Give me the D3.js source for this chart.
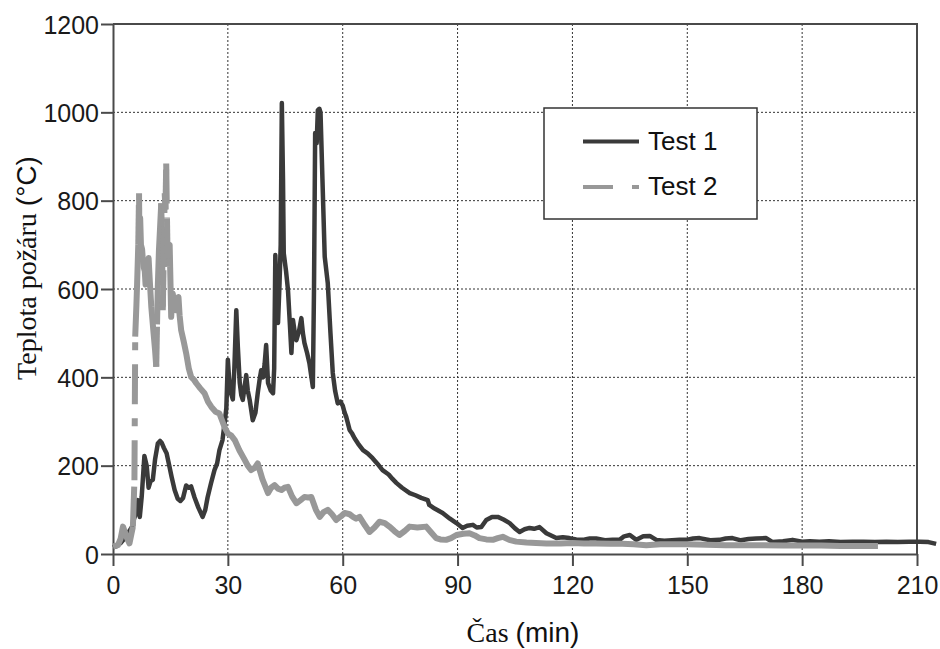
<!DOCTYPE html>
<html>
<head>
<meta charset="utf-8">
<script src="https://cdn.jsdelivr.net/npm/d3@7"></script>
<style>
  body { margin: 0; background: #fff; }
  svg { display: block; }
</style>
</head>
<body>
<div id="app"></div>
<script>
// values (time in min, temperature in °C)
const seriesNames = ["Test 1", "Test 2"];

const test1Time = [0, 1, 2, 3, 4, 5, 5.5, 6, 6.5, 7, 7.5, 8.2, 8.8, 9.3, 9.8, 10.4, 11, 11.7, 12.3, 12.7,
  13.3, 14, 14.7, 15.3, 16.1, 16.9, 17.6, 18.3, 19.1, 19.8, 20.4, 21.3, 22.3, 23.4, 24.1, 24.7, 25.6, 26.5,
  27.2, 27.8, 28.6, 29.2, 29.6, 30.0, 30.3, 30.6, 31.3, 31.7, 32.2, 32.6, 33.1, 33.5, 33.9, 34.4, 34.8, 35.2,
  35.7, 36.5, 37.2, 37.8, 38.3, 38.7, 39.2, 39.6, 40.0, 40.5, 41.2, 41.8, 42.1, 42.4, 42.8, 43.1, 43.5, 43.8,
  44.1, 44.4, 44.6, 45.2, 45.7, 46.2, 46.6, 47.0, 47.5, 47.9, 48.6, 49.2, 49.6, 50.0, 50.7, 51.3, 52.2, 52.5,
  52.8, 53.2, 53.5, 53.9, 54.2, 54.7, 55.3, 56.1, 56.8, 57.4, 58.0, 58.7, 59.4, 60.0, 60.5, 60.9, 61.8, 62.5,
  63.1, 64.0, 65.3, 66.5, 67.8, 69.0, 70.4, 72.0, 73.0, 74.0, 75.5, 77.5, 79.0, 80.5, 82.2, 82.6, 84.0, 86.1,
  88.0, 89.7, 91.3, 92.5, 94.0, 95.0, 96.2, 97.5, 99.0, 100.5, 102.0, 103.6, 105.0, 106.2, 107.5, 108.8,
  110.0, 111.4, 113.2, 115.8, 117.5, 119.2, 121.0, 122.7, 124.5, 126.2, 128.5, 130.5, 132.3, 133.5, 135.0,
  136.7, 138.5, 140.2, 141.9, 144.0, 146.0, 148.0, 149.7, 151.5, 153.2, 156.0, 158.4, 160.0, 161.8, 164.0,
  166.0, 168.0, 170.6, 172.3, 175.0, 177.5, 180.0, 182.0, 184.5, 187.0, 190.0, 193.2, 196.0, 199.0, 202.0,
  205.0, 208.0, 210.7, 213.0, 215.0];
const test1Temp = [15, 18, 25, 35, 48, 62, 80, 92, 122, 84, 130, 222, 200, 150, 165, 168, 215, 250, 256, 252,
  240, 228, 200, 175, 145, 125, 120, 127, 155, 150, 153, 128, 105, 84, 100, 128, 160, 190,
  205, 235, 258, 300, 330, 440, 400, 370, 350, 420, 552, 470, 388, 360, 349, 380, 405, 370,
  349, 303, 320, 364, 395, 416, 400, 430, 473, 387, 370, 364, 420, 677, 560, 523, 613, 700,
  1021, 850, 681, 640, 598, 520, 455, 530, 500, 484, 505, 534, 500, 478, 455, 432, 378, 600,
  953, 930, 1005, 1008, 1000, 850, 673, 613, 500, 410, 370, 341, 345, 336, 320, 311, 281, 272,
  262, 250, 235, 228, 217, 205, 190, 180, 170, 161, 150, 138, 133, 127, 122, 111, 103, 93,
  80, 70, 59, 64, 66, 60, 61, 77, 84, 84, 78, 70, 58, 50, 56, 59,
  57, 61, 47, 36, 38, 36, 33, 32, 35, 35, 31, 32, 32, 40, 43,
  32, 40, 41, 32, 30, 31, 32, 32, 35, 36, 31, 32, 35, 36, 31,
  34, 35, 36, 27, 29, 32, 28, 29, 28, 29, 27, 28, 28, 27, 28,
  27, 28, 28, 27, 23];

const test2Time = [0, 1.3, 2.0, 2.6, 3.1, 3.5, 4.3, 5.2, 5.6, 5.8, 6.1, 6.3, 6.6, 6.8, 6.9, 7.1, 7.3, 7.6,
  7.8, 8.0, 8.3, 8.5, 8.7, 9.0, 9.3, 9.6, 10.0, 10.3, 10.6, 11.0, 11.3, 11.5, 11.7, 12.0, 12.3, 12.6, 12.8,
  13.0, 13.2, 13.5, 13.7, 13.9, 14.1, 14.3, 14.5, 14.8, 15.0, 15.2, 15.4, 15.6, 16.1, 16.5, 17.1, 17.4,
  17.8, 18.5, 19.1, 19.8, 20.4, 21.1, 21.8, 22.8, 23.9, 24.8, 25.7, 26.8, 27.8, 29.1, 30.0, 30.9, 31.8, 33.0,
  34.4, 35.2, 36.1, 37.0, 37.8, 39.0, 40.5, 41.3, 42.2, 43.1, 44.0, 44.8, 45.7, 46.8, 47.9, 49.0, 50.0,
  51.0, 51.8, 53.0, 54.0, 55.0, 56.1, 57.2, 58.3, 59.5, 60.5, 61.8, 62.7, 63.5, 64.4, 65.8, 67.0, 68.3,
  69.6, 71.0, 72.2, 73.5, 74.8, 76.2, 77.5, 79.5, 81.8, 83.0, 84.4, 85.5, 87.0, 88.3, 89.7, 91.5, 93.1,
  94.5, 95.7, 97.5, 99.2, 100.5, 101.8, 103.5, 105.3, 108.0, 110.5, 113.2, 117.0, 120.0, 123.0, 126.2,
  130.0, 133.0, 136.0, 139.3, 143.0, 147.0, 150.0, 155.0, 160.0, 165.0, 170.0, 175.0, 180.0, 185.0,
  190.0, 195.0, 199.8];
const test2Temp = [17, 20, 35, 62, 50, 39, 24, 62, 167, 492, 560, 613, 700, 817, 718, 760, 700, 690,
  666, 650, 640, 610, 620, 650, 670, 620, 560, 530, 500, 460, 424, 520, 605, 688, 740, 794, 700,
  552, 650, 817, 780, 884, 760, 650, 690, 700, 620, 537, 570, 590, 560, 552, 582, 540,
  507, 480, 455, 420, 401, 395, 386, 375, 364, 345, 333, 322, 318, 288, 273, 268, 258, 235,
  213, 200, 190, 195, 205, 170, 138, 150, 156, 148, 145, 150, 152, 130, 115, 122, 129,
  128, 129, 100, 84, 95, 100, 90, 77, 85, 93, 90, 84, 80, 84, 65, 50, 60,
  73, 70, 62, 52, 43, 52, 62, 60, 62, 50, 36, 33, 32, 36, 43, 46, 47,
  42, 36, 33, 32, 36, 39, 32, 28, 26, 25, 24, 24, 25, 24, 24,
  23, 23, 22, 20, 22, 22, 22, 21, 20, 20, 20, 19, 19, 19,
  18, 18, 18];

const xTicks = [0, 30, 60, 90, 120, 150, 180, 210];
const yTicks = [0, 200, 400, 600, 800, 1000, 1200];

const width = 940, height = 649;
const dark = "#3a3a3a", grey = "#989898", frame = "#4a4a4a";
const dashPattern = [40, 14, 8, 14];      // along the data line
const legendDash = [30, 19, 8, 19];       // as drawn in the legend

const svg = d3.select("#app").append("svg")
    .attr("width", width)
    .attr("height", height);

const x = d3.scaleLinear().domain([0, 210]).range([113, 917]);
const y = d3.scaleLinear().domain([0, 1200]).range([554, 24]);

// dotted grid
svg.append("g").selectAll("line")
    .data(xTicks.filter(d => d > 0 && d < 210))
    .join("line")
    .attr("x1", d => x(d)).attr("x2", d => x(d))
    .attr("y1", y(0)).attr("y2", y(1200))
    .attr("stroke", "#333").attr("stroke-width", 1).attr("stroke-dasharray", "2,2");
svg.append("g").selectAll("line")
    .data(yTicks.filter(d => d > 0 && d < 1200))
    .join("line")
    .attr("x1", x(0)).attr("x2", x(210))
    .attr("y1", d => y(d)).attr("y2", d => y(d))
    .attr("stroke", "#333").attr("stroke-width", 1).attr("stroke-dasharray", "2,2");

// top and right frame
svg.append("path")
    .attr("d", `M${x(0)},${y(1200)}H${x(210)}V${y(0)}`)
    .attr("fill", "none").attr("stroke", frame).attr("stroke-width", 2);

// axes
const xAxis = svg.append("g")
    .attr("transform", `translate(0,${y(0)})`)
    .call(d3.axisBottom(x).tickValues(xTicks).tickSize(12).tickSizeOuter(0).tickPadding(10));
const yAxis = svg.append("g")
    .attr("transform", `translate(${x(0)},0)`)
    .call(d3.axisLeft(y).tickValues(yTicks).tickFormat(d3.format("d"))
        .tickSize(12).tickSizeOuter(0).tickPadding(2));
[xAxis, yAxis].forEach(a => {
    a.select(".domain").attr("stroke", frame).attr("stroke-width", 2);
    a.selectAll(".tick line").attr("stroke", frame).attr("stroke-width", 2);
    a.selectAll(".tick text")
        .attr("fill", "#1a1a1a")
        .style("font-family", "'Liberation Sans', Arial, sans-serif")
        .style("font-size", "25px");
});
yAxis.selectAll(".tick text").attr("dy", "0.36em");

const test1 = test1Time.map((t, i) => [t, test1Temp[i]]);
const test2 = test2Time.map((t, i) => [t, test2Temp[i]]);

const line = d3.line().x(d => x(d[0])).y(d => y(d[1]));

// Test 1
svg.append("path")
    .datum(test1)
    .attr("d", line)
    .attr("fill", "none")
    .attr("stroke", dark)
    .attr("stroke-width", 4.5)
    .attr("stroke-linejoin", "round");

// Test 2: dash pattern restarts on every segment, so only long segments show gaps
const firstDash = dashPattern[0];
const segLen = (a, b) => Math.hypot(x(b[0]) - x(a[0]), y(b[1]) - y(a[1]));
const runs = [];
const longSegs = [];
let run = [test2[0]];
for (let i = 1; i < test2.length; i++) {
    const a = test2[i - 1], b = test2[i];
    if (segLen(a, b) <= firstDash) {
        run.push(b);
    } else {
        longSegs.push([a, b]);
        if (run.length > 1) runs.push(run);
        run = [b];
    }
}
if (run.length > 1) runs.push(run);

svg.append("g").selectAll("path")
    .data(runs)
    .join("path")
    .attr("d", line)
    .attr("fill", "none")
    .attr("stroke", grey)
    .attr("stroke-width", 6)
    .attr("stroke-linejoin", "round");
svg.append("g").selectAll("line")
    .data(longSegs)
    .join("line")
    .attr("x1", d => x(d[0][0])).attr("y1", d => y(d[0][1]))
    .attr("x2", d => x(d[1][0])).attr("y2", d => y(d[1][1]))
    .attr("stroke", grey)
    .attr("stroke-width", 6)
    .attr("stroke-dasharray", dashPattern.join(","));

// legend
const legend = svg.append("g");
legend.append("rect")
    .attr("x", 544).attr("y", 108).attr("width", 213).attr("height", 111)
    .attr("fill", "#fff").attr("stroke", "#333").attr("stroke-width", 1.5);
const legendItems = [
    { name: seriesNames[0], color: dark, w: 4, dash: null, y: 141.5 },
    { name: seriesNames[1], color: grey, w: 4, dash: legendDash.join(","), y: 187 }
];
legendItems.forEach(it => {
    legend.append("line")
        .attr("x1", 583).attr("x2", 639)
        .attr("y1", it.y).attr("y2", it.y)
        .attr("stroke", it.color).attr("stroke-width", it.w)
        .attr("stroke-dasharray", it.dash);
    legend.append("text")
        .attr("x", 648).attr("y", it.y + 8)
        .attr("fill", "#111")
        .style("font-family", "'Liberation Sans', Arial, sans-serif")
        .style("font-size", "26px")
        .text(it.name);
});

// axis titles
const xTitle = svg.append("text")
    .attr("x", 523).attr("y", 642)
    .attr("text-anchor", "middle")
    .attr("fill", "#111")
    .style("font-size", "28px");
xTitle.append("tspan").style("font-family", "'Liberation Serif', 'Times New Roman', serif").text("Čas ");
xTitle.append("tspan").style("font-family", "'Liberation Sans', Arial, sans-serif").text("(min)");

const yTitle = svg.append("text")
    .attr("transform", "translate(36,268) rotate(-90)")
    .attr("text-anchor", "middle")
    .attr("fill", "#111")
    .style("font-size", "28px");
yTitle.append("tspan").style("font-family", "'Liberation Serif', 'Times New Roman', serif").text("Teplota požáru ");
yTitle.append("tspan").style("font-family", "'Liberation Sans', Arial, sans-serif").text("(°C)");
</script>
</body>
</html>
